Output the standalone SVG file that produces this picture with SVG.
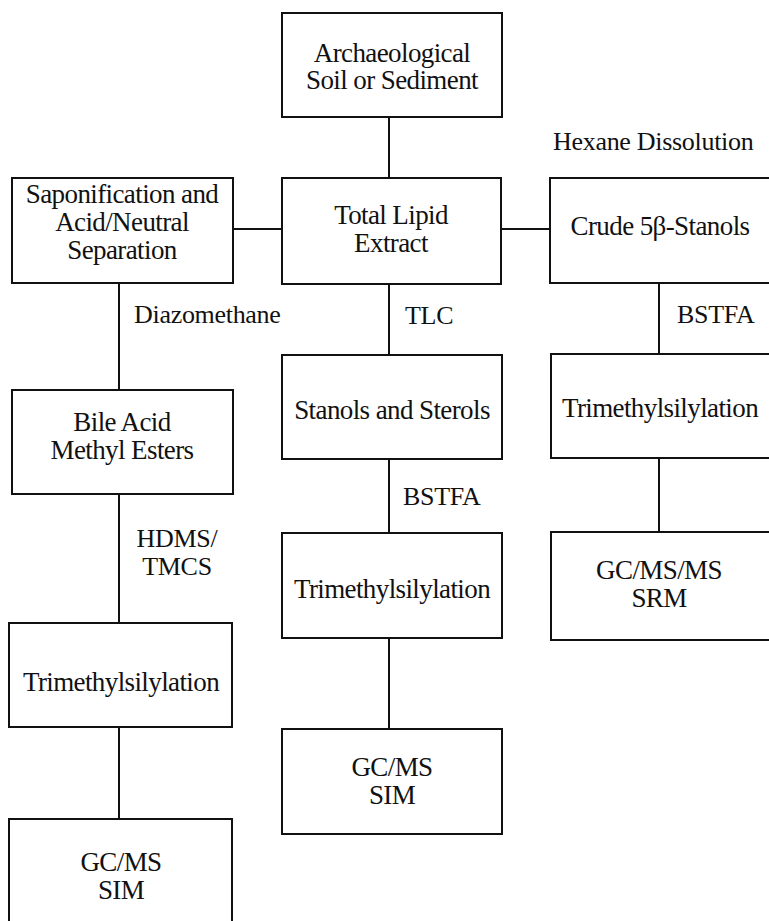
<svg xmlns="http://www.w3.org/2000/svg" width="769" height="921" viewBox="0 0 769 921">
  <style>
    .box { fill: #fff; stroke: #111; stroke-width: 2; }
    .link { stroke: #111; stroke-width: 2; fill: none; }
    text { fill: #111; font-family: "Liberation Serif", "Times New Roman", serif; }
    .t { font-size: 27px; letter-spacing: -0.6px; text-anchor: middle; }
    .lbl { font-size: 26px; letter-spacing: -0.3px; }
  </style>
  <rect width="769" height="921" fill="#fff"/>

  <!-- connectors and their reagent labels -->
  <g id="connectors">
    <line class="link" x1="389" y1="117" x2="389" y2="178"/>
    <line class="link" x1="233" y1="229" x2="282" y2="229"/>
    <line class="link" x1="501" y1="229" x2="550" y2="229"/>
    <line class="link" x1="119" y1="283" x2="119" y2="390"/>
    <line class="link" x1="389" y1="284" x2="389" y2="355"/>
    <line class="link" x1="659" y1="283" x2="659" y2="354"/>
    <line class="link" x1="119" y1="494" x2="119" y2="623"/>
    <line class="link" x1="389" y1="459" x2="389" y2="533"/>
    <line class="link" x1="659" y1="458" x2="659" y2="532"/>
    <line class="link" x1="119" y1="727" x2="119" y2="819"/>
    <line class="link" x1="389" y1="638" x2="389" y2="729"/>
    <text class="lbl" x="553" y="150">Hexane Dissolution</text>
    <text class="lbl" x="134" y="323">Diazomethane</text>
    <text class="lbl" x="405" y="324">TLC</text>
    <text class="lbl" x="677" y="323">BSTFA</text>
    <text class="lbl" x="403" y="505">BSTFA</text>
    <text class="lbl" x="177" y="547" text-anchor="middle">HDMS/</text>
    <text class="lbl" x="177" y="575" text-anchor="middle">TMCS</text>
  </g>

  <g id="soil">
    <rect class="box" x="282" y="13" width="220" height="104"/>
    <text class="t" x="392" y="62">Archaeological</text>
    <text class="t" x="392" y="89">Soil or Sediment</text>
  </g>

  <g id="saponification">
    <rect class="box" x="12" y="178" width="221" height="105"/>
    <text class="t" x="122" y="203">Saponification and</text>
    <text class="t" x="122" y="231">Acid/Neutral</text>
    <text class="t" x="122" y="259">Separation</text>
  </g>

  <g id="total-lipid">
    <rect class="box" x="282" y="178" width="219" height="106"/>
    <text class="t" x="391" y="224">Total Lipid</text>
    <text class="t" x="391" y="252">Extract</text>
  </g>

  <g id="crude-stanols">
    <rect class="box" x="550" y="178" width="222" height="105"/>
    <text class="t" x="660" y="235">Crude 5β-Stanols</text>
  </g>

  <g id="bile-acid">
    <rect class="box" x="12" y="390" width="221" height="104"/>
    <text class="t" x="122" y="431">Bile Acid</text>
    <text class="t" x="122" y="459">Methyl Esters</text>
  </g>

  <g id="stanols-sterols">
    <rect class="box" x="282" y="355" width="220" height="104"/>
    <text class="t" x="392" y="419">Stanols and Sterols</text>
  </g>

  <g id="tms-right">
    <rect class="box" x="551" y="354" width="221" height="104"/>
    <text class="t" x="660" y="417">Trimethylsilylation</text>
  </g>

  <g id="tms-middle">
    <rect class="box" x="282" y="533" width="220" height="105"/>
    <text class="t" x="392" y="598">Trimethylsilylation</text>
  </g>

  <g id="gcmsms">
    <rect class="box" x="551" y="532" width="221" height="108"/>
    <text class="t" x="659" y="579">GC/MS/MS</text>
    <text class="t" x="659" y="607">SRM</text>
  </g>

  <g id="tms-left">
    <rect class="box" x="9" y="623" width="223" height="104"/>
    <text class="t" x="121" y="691">Trimethylsilylation</text>
  </g>

  <g id="gcms-middle">
    <rect class="box" x="282" y="729" width="220" height="105"/>
    <text class="t" x="392" y="776">GC/MS</text>
    <text class="t" x="392" y="804">SIM</text>
  </g>

  <g id="gcms-left">
    <rect class="box" x="9" y="819" width="223" height="110"/>
    <text class="t" x="121" y="871">GC/MS</text>
    <text class="t" x="121" y="899">SIM</text>
  </g>
</svg>
